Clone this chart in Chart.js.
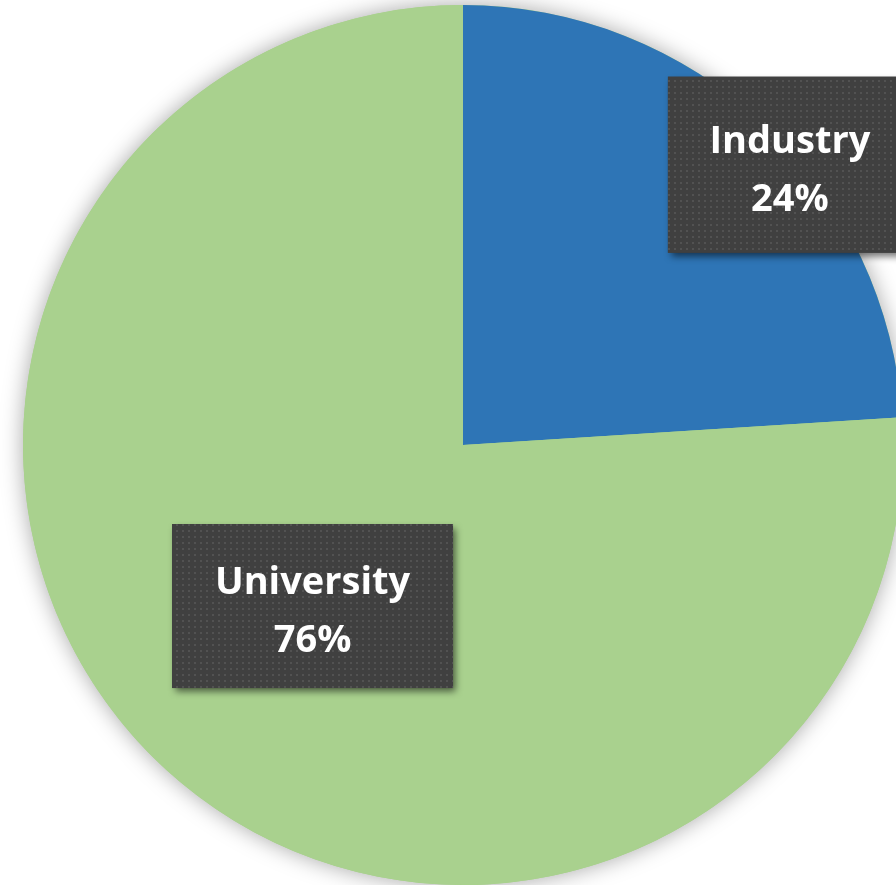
<!DOCTYPE html>
<html>
<head>
<meta charset="utf-8">
<script src="https://cdn.jsdelivr.net/npm/chart.js@4.4.1/dist/chart.umd.min.js"></script>
<style>
  html, body { margin: 0; padding: 0; background: #ffffff; overflow: hidden; }
  #wrap { position: absolute; left: 0; top: 0; width: 926px; height: 890px; }
</style>
</head>
<body>
<div id="wrap"><canvas id="c"></canvas></div>
<script>
const categories = ["Industry", "University"];
const values = [24, 76];
const percentLabels = ["24%", "76%"];
const colors = ["#2E75B6", "#A9D18E"];

function makePattern(ctx) {
  const p = document.createElement('canvas');
  p.width = 6; p.height = 6;
  const pc = p.getContext('2d');
  pc.fillStyle = '#404040';
  pc.fillRect(0, 0, 6, 6);
  pc.fillStyle = '#525252';
  pc.fillRect(2, 2, 2, 2);
  return ctx.createPattern(p, 'repeat');
}

const pieShadow = {
  id: 'pieShadow',
  beforeDatasetsDraw(chart) {
    const arc = chart.getDatasetMeta(0).data[0];
    if (!arc) return;
    const ctx = chart.ctx;
    ctx.save();
    ctx.shadowColor = 'rgba(0,0,0,0.35)';
    ctx.shadowBlur = 22;
    ctx.fillStyle = colors[1];
    ctx.beginPath();
    ctx.arc(arc.x, arc.y, arc.outerRadius, 0, Math.PI * 2);
    ctx.fill();
    ctx.restore();
  }
};

const boxLabels = {
  id: 'boxLabels',
  afterDatasetsDraw(chart, args, opts) {
    const meta = chart.getDatasetMeta(0);
    const ctx = chart.ctx;
    const pattern = makePattern(ctx);
    meta.data.forEach((arc, i) => {
      const b = opts.boxes[i];
      const cx = arc.x + b.fx * arc.outerRadius;
      const cy = arc.y + b.fy * arc.outerRadius;
      const x0 = cx - b.w / 2, y0 = cy - b.h / 2;
      ctx.save();
      ctx.shadowColor = 'rgba(0,0,0,0.55)';
      ctx.shadowBlur = 7;
      ctx.shadowOffsetX = 3;
      ctx.shadowOffsetY = 4;
      ctx.fillStyle = '#404040';
      ctx.fillRect(x0, y0, b.w, b.h);
      ctx.restore();
      ctx.save();
      ctx.fillStyle = pattern;
      ctx.fillRect(x0, y0, b.w, b.h);
      ctx.fillStyle = '#ffffff';
      ctx.font = 'bold 38px "Open Sans", Lato, sans-serif';
      ctx.textAlign = 'center';
      ctx.textBaseline = 'alphabetic';
      ctx.fillText(categories[i], cx, cy - 12);
      ctx.fillText(percentLabels[i], cx, cy + 46);
      ctx.restore();
    });
  }
};

new Chart(document.getElementById('c'), {
  type: 'pie',
  data: {
    labels: categories,
    datasets: [{
      data: values,
      backgroundColor: colors,
      borderWidth: 0,
      hoverOffset: 0
    }]
  },
  options: {
    responsive: true,
    maintainAspectRatio: false,
    animation: false,
    radius: 440,
    layout: { padding: 0 },
    events: [],
    plugins: {
      legend: { display: false },
      tooltip: { enabled: false },
      boxLabels: {
        boxes: [
          { fx: 0.743, fy: -0.637, w: 244, h: 176 },
          { fx: -0.342, fy: 0.366, w: 281, h: 164 }
        ]
      }
    }
  },
  plugins: [pieShadow, boxLabels]
});
</script>
</body>
</html>
